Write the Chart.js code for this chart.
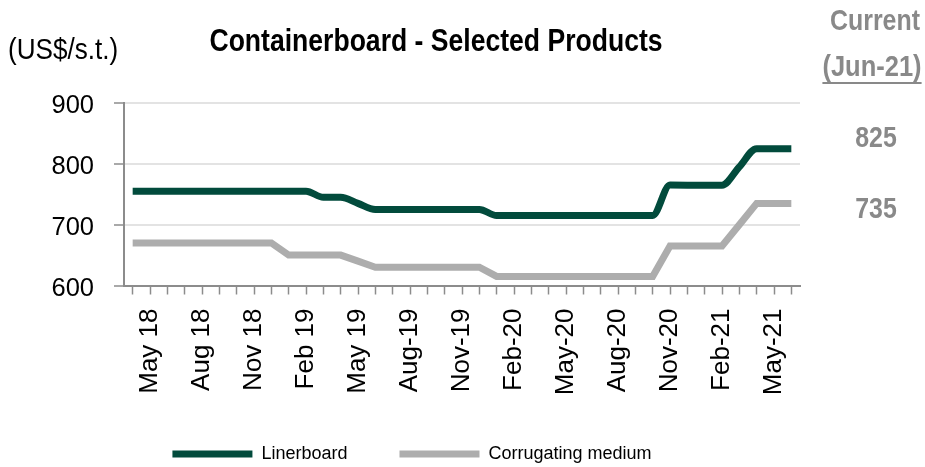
<!DOCTYPE html>
<html>
<head>
<meta charset="utf-8">
<script src="https://cdn.jsdelivr.net/npm/chart.js@4"></script>
<style>
  html, body { margin: 0; padding: 0; background: #ffffff; }
  #wrap { width: 925px; height: 467px; }
</style>
</head>
<body>
<div id="wrap"><canvas id="c" width="925" height="467"></canvas></div>
<script>
// Monthly list prices, Apr 2018 - Jun 2021 (US$ per short ton)
const categories = [
  'Apr 18', 'May 18', 'Jun 18', 'Jul 18', 'Aug 18', 'Sep 18', 'Oct 18', 'Nov 18', 'Dec 18',
  'Jan 19', 'Feb 19', 'Mar 19', 'Apr 19', 'May 19', 'Jun 19', 'Jul 19',
  'Aug-19', 'Sep-19', 'Oct-19', 'Nov-19', 'Dec-19',
  'Jan-20', 'Feb-20', 'Mar-20', 'Apr-20', 'May-20', 'Jun-20', 'Jul-20', 'Aug-20', 'Sep-20', 'Oct-20', 'Nov-20', 'Dec-20',
  'Jan-21', 'Feb-21', 'Mar-21', 'Apr-21', 'May-21', 'Jun-21'
];

const linerboard = [
  755, 755, 755, 755, 755, 755, 755, 755, 755, 755, 755,
  745, 745, 735,
  725, 725, 725, 725, 725, 725, 725,
  715, 715, 715, 715, 715, 715, 715, 715, 715, 715,
  765, 765, 765, 765,
  795,
  825, 825, 825
];

const corrugatingMedium = [
  670, 670, 670, 670, 670, 670, 670, 670, 670,
  650, 650, 650, 650, 640,
  630, 630, 630, 630, 630, 630, 630,
  615, 615, 615, 615, 615, 615, 615, 615, 615, 615,
  665, 665, 665, 665,
  700,
  735, 735, 735
];

const seriesNames = ['Linerboard', 'Corrugating medium'];
const yRange = { min: 600, max: 900, step: 100 };

const SANS = '"Liberation Sans", Arial, sans-serif';
const AXIS_GREY = '#8c8c8c';
const NOTE_GREY = '#898989';

// Horizontally condensed text (narrow face look)
function narrowText(ctx, text, x, y, squeeze) {
  ctx.save();
  ctx.translate(x, y);
  ctx.scale(squeeze, 1);
  ctx.fillText(text, 0, 0);
  ctx.restore();
  return ctx.measureText(text).width * squeeze;
}

// Headings, unit note and the "current" price column
const annotations = {
  id: 'annotations',
  afterDraw(chart) {
    const ctx = chart.ctx;
    ctx.save();
    ctx.textBaseline = 'middle';

    ctx.fillStyle = '#000000';
    ctx.textAlign = 'center';
    ctx.font = 'bold 32px ' + SANS;
    narrowText(ctx, 'Containerboard - Selected Products', 436, 42, 0.83);

    ctx.textAlign = 'left';
    ctx.font = '30px ' + SANS;
    narrowText(ctx, '(US$/s.t.)', 8, 51, 0.87);

    ctx.fillStyle = NOTE_GREY;
    ctx.textAlign = 'center';
    ctx.font = 'bold 30px ' + SANS;
    narrowText(ctx, 'Current', 875, 22, 0.83);
    const sub = '(' + categories[categories.length - 1] + ')';
    const w = narrowText(ctx, sub, 872, 68, 0.85);
    ctx.fillRect(872 - w / 2, 82, w, 2);

    const last = categories.length - 1;
    narrowText(ctx, String(linerboard[last]), 876, 139, 0.83);
    narrowText(ctx, String(corrugatingMedium[last]), 876, 210, 0.83);
    ctx.restore();
  }
};

new Chart(document.getElementById('c'), {
  type: 'line',
  data: {
    labels: categories,
    datasets: [
      {
        label: seriesNames[0],
        data: linerboard,
        borderColor: '#024b3c',
        backgroundColor: '#024b3c',
        borderWidth: 7,
        borderCapStyle: 'butt',
        cubicInterpolationMode: 'monotone',
        pointRadius: 0,
        fill: false
      },
      {
        label: seriesNames[1],
        data: corrugatingMedium,
        borderColor: '#adadad',
        backgroundColor: '#adadad',
        borderWidth: 7,
        borderCapStyle: 'butt',
        tension: 0,
        pointRadius: 0,
        fill: false
      }
    ]
  },
  options: {
    responsive: false,
    animation: false,
    devicePixelRatio: 1,
    layout: {
      autoPadding: false,
      padding: { left: 24, right: 125, top: 103, bottom: 0 }
    },
    scales: {
      x: {
        type: 'category',
        offset: true,
        grid: {
          offset: false,
          drawOnChartArea: false,
          drawTicks: true,
          tickLength: 9,
          tickColor: AXIS_GREY,
          tickWidth: 1.5
        },
        border: { color: AXIS_GREY, width: 2 },
        ticks: {
          autoSkip: false,
          minRotation: 90,
          maxRotation: 90,
          padding: 14,
          color: '#000000',
          font: { family: SANS, size: 26 },
          callback: (value, index) => (index % 3 === 1 ? categories[index] : '')
        },
        afterFit: (scale) => { scale.height = 107.5; }
      },
      y: {
        min: yRange.min,
        max: yRange.max,
        grid: {
          color: (c) => (c.tick && c.tick.value === yRange.min ? 'rgba(0,0,0,0)' : '#e3e3e3'),
          lineWidth: 2,
          tickLength: 10,
          tickColor: AXIS_GREY,
          tickWidth: 1.5
        },
        border: { color: AXIS_GREY, width: 2 },
        ticks: {
          stepSize: yRange.step,
          padding: 20,
          labelOffset: 3,
          color: '#000000',
          font: { family: SANS, size: 25.5 }
        },
        afterFit: (scale) => { scale.width = 100; }
      }
    },
    plugins: {
      title: { display: false },
      tooltip: { enabled: false },
      legend: {
        display: true,
        position: 'bottom',
        maxHeight: 74,
        labels: {
          boxWidth: 80,
          boxHeight: 7,
          padding: 52,
          color: '#000000',
          font: { family: SANS, size: 18 },
          generateLabels: (chart) => chart.data.datasets.map((ds, i) => ({
            text: ds.label,
            fillStyle: ds.borderColor,
            strokeStyle: ds.borderColor,
            lineWidth: 0,
            hidden: false,
            datasetIndex: i
          }))
        }
      }
    }
  },
  plugins: [annotations]
});
</script>
</body>
</html>
